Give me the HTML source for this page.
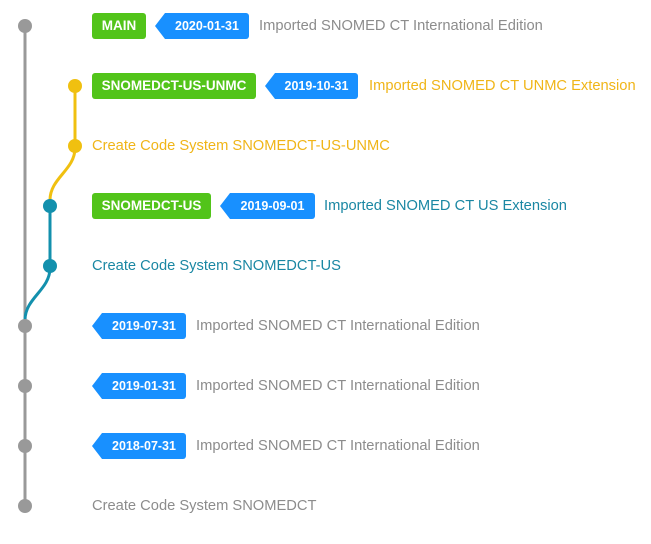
<!DOCTYPE html>
<html><head><meta charset="utf-8"><style>
body{margin:0;width:651px;height:544px;background:#fff;position:relative;overflow:hidden;font-family:"Liberation Sans",Arial,sans-serif}
.g{position:absolute;height:26px;line-height:26px;background:#52c41a;color:#fff;font-weight:bold;font-size:13.5px;border-radius:3px;padding:0 0;text-align:center;box-sizing:border-box}
.b{position:absolute;height:26px;line-height:26px;background:#1890ff;color:#fff;font-weight:bold;font-size:12.5px;border-radius:0 3px 3px 0;box-sizing:border-box;text-align:center}
.b:before{content:"";position:absolute;left:-10px;top:0;border-right:10px solid #1890ff;border-top:13px solid transparent;border-bottom:13px solid transparent}
.t{position:absolute;font-size:14.7px;line-height:20px;color:#8c8c8c}
</style></head><body>
<svg width="651" height="544" style="position:absolute;left:0;top:0">
<line x1="25" y1="26" x2="25" y2="506" stroke="#999" stroke-width="3"/>
<path d="M75 86 V148 C75 170 50 178 50 200 V206" stroke="#f0c010" stroke-width="3" fill="none"/>
<path d="M50 206 V268 C50 290 25 298 25 320 V326" stroke="#1390ad" stroke-width="3" fill="none"/>
<g fill="#999"><circle cx="25" cy="26" r="7"/><circle cx="25" cy="326" r="7"/><circle cx="25" cy="386" r="7"/><circle cx="25" cy="446" r="7"/><circle cx="25" cy="506" r="7"/></g>
<g fill="#f0c010"><circle cx="75" cy="86" r="7"/><circle cx="75" cy="146" r="7"/></g>
<g fill="#1390ad"><circle cx="50" cy="206" r="7"/><circle cx="50" cy="266" r="7"/></g>
</svg>
<div class="g" style="left:92px;top:13px;width:54px">MAIN</div>
<div class="b" style="left:165px;top:13px;width:84px">2020-01-31</div>
<div class="t" style="left:259px;top:16px">Imported SNOMED CT International Edition</div>
<div class="g" style="left:92px;top:73px;width:164px">SNOMEDCT-US-UNMC</div>
<div class="b" style="left:275px;top:73px;width:83px">2019-10-31</div>
<div class="t" style="left:369px;top:76px;color:#f0b518">Imported SNOMED CT UNMC Extension</div>
<div class="t" style="left:92px;top:136px;color:#f0b518">Create Code System SNOMEDCT-US-UNMC</div>
<div class="g" style="left:92px;top:193px;width:119px">SNOMEDCT-US</div>
<div class="b" style="left:230px;top:193px;width:85px">2019-09-01</div>
<div class="t" style="left:324px;top:196px;color:#1a87a3">Imported SNOMED CT US Extension</div>
<div class="t" style="left:92px;top:256px;color:#1a87a3">Create Code System SNOMEDCT-US</div>
<div class="b" style="left:102px;top:313px;width:84px">2019-07-31</div>
<div class="t" style="left:196px;top:316px">Imported SNOMED CT International Edition</div>
<div class="b" style="left:102px;top:373px;width:84px">2019-01-31</div>
<div class="t" style="left:196px;top:376px">Imported SNOMED CT International Edition</div>
<div class="b" style="left:102px;top:433px;width:84px">2018-07-31</div>
<div class="t" style="left:196px;top:436px">Imported SNOMED CT International Edition</div>
<div class="t" style="left:92px;top:496px">Create Code System SNOMEDCT</div>
</body></html>
